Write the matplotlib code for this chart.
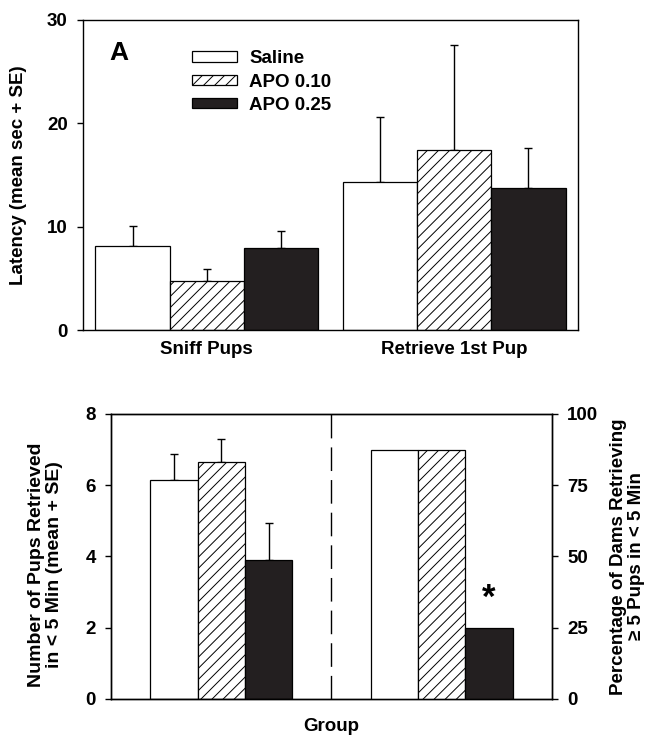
import matplotlib
matplotlib.use("Agg")
import matplotlib.pyplot as plt
import numpy as np

plt.rcParams['font.family'] = ['Liberation Sans', 'DejaVu Sans']
plt.rcParams['font.weight'] = 'bold'
plt.rcParams['hatch.linewidth'] = 0.7

FS = 13.5  # base font size

# ---- data ----
groups = ['Saline', 'APO 0.10', 'APO 0.25']
categories = ['Sniff Pups', 'Retrieve 1st Pup']
saline_mean = [8.1, 14.3]
saline_se = [2.0, 6.35]
apo010_mean = [4.7, 17.4]
apo010_se = [1.2, 10.2]
apo025_mean = [7.95, 13.75]
apo025_se = [1.6, 3.9]

pups_mean = [6.15, 6.65, 3.9]
pups_se = [0.72, 0.66, 1.04]
pct_retrieving = [87.5, 87.5, 25.0]
sig_marker = ['', '', '*']

colors = ['white', 'white', '#231f20']
hatches = ['', '///', '']

fig = plt.figure(figsize=(6.46, 7.37), dpi=100)

# ---- top panel ----
ax = fig.add_axes([0.1285, 0.5522, 0.7662, 0.4207])
means = [saline_mean, apo010_mean, apo025_mean]
ses = [saline_se, apo010_se, apo025_se]
x = np.arange(len(categories))
w = 0.3
for i, (m, s) in enumerate(zip(means, ses)):
    pos = x + (i - 1) * w
    ax.bar(pos, m, width=w, color=colors[i], edgecolor='black', linewidth=0.9,
           hatch=hatches[i], label=groups[i], zorder=2)
    ax.errorbar(pos, m, yerr=[np.zeros(len(m)), s], fmt='none', ecolor='black',
                elinewidth=1.0, capsize=3.2, capthick=1.0, zorder=1)
ax.set_xlim(-0.5, 1.5)
ax.set_ylim(0, 30)
ax.set_yticks([0, 10, 20, 30])
ax.set_xticks(x)
ax.set_xticklabels(categories, fontsize=FS, fontweight='bold')
ax.tick_params(axis='x', length=0, pad=8)
ax.tick_params(axis='y', direction='out', length=4, width=1, pad=7, labelsize=FS)
ax.set_ylabel('Latency (mean sec + SE)', fontsize=FS, fontweight='bold')
ax.yaxis.set_label_coords(-0.113, 0.5)
for sp in ax.spines.values():
    sp.set_linewidth(1.0)
ax.text(0.073, 0.892, 'A', transform=ax.transAxes, fontsize=19, fontweight='bold',
        ha='center', va='center')
leg = ax.legend(loc='upper left', bbox_to_anchor=(0.22, 0.902), frameon=False,
                fontsize=FS, handlelength=2.4, handleheight=0.5,
                handletextpad=0.65, labelspacing=0.33, borderpad=0, borderaxespad=0)

# ---- bottom panel ----
bx = fig.add_axes([0.1718, 0.0516, 0.6827, 0.3867])
bx2 = bx.twinx()
w2 = 0.215
for i in range(len(groups)):
    bx.bar(0 + (i - 1) * w2, pups_mean[i], width=w2, color=colors[i], edgecolor='black',
           linewidth=0.9, hatch=hatches[i], zorder=2)
    bx.errorbar(0 + (i - 1) * w2, pups_mean[i], yerr=[[0], [pups_se[i]]], fmt='none',
                ecolor='black', elinewidth=1.0, capsize=2.8, capthick=1.0, zorder=1)
    bx2.bar(1 + (i - 1) * w2, pct_retrieving[i], width=w2, color=colors[i],
            edgecolor='black', linewidth=0.9, hatch=hatches[i], zorder=2)
    if sig_marker[i]:
        bx2.text(1 + (i - 1) * w2, pct_retrieving[i] + 4.5, sig_marker[i], fontsize=25,
                 fontweight='bold', ha='center', va='bottom')
bx.axvline(0.5, color='black', linewidth=1.0, dashes=(17, 6.5))
bx.set_xlim(-0.5, 1.5)
bx.set_ylim(0, 8)
bx.set_yticks([0, 2, 4, 6, 8])
bx2.set_ylim(0, 100)
bx2.set_yticks([0, 25, 50, 75, 100])
bx.set_xticks([])
bx.tick_params(axis='y', direction='out', length=4, width=1, pad=7, labelsize=FS)
bx2.tick_params(axis='y', direction='out', length=4, width=1, pad=7, labelsize=FS)
bx.set_xlabel('Group', fontsize=FS, fontweight='bold', labelpad=14)
bx.set_ylabel('Number of Pups Retrieved\nin < 5 Min (mean + SE)', fontsize=14,
              fontweight='bold', linespacing=1.1)
bx.yaxis.set_label_coords(-0.109, 0.47)
bx2.set_ylabel('Percentage of Dams Retrieving\n\u2265 5 Pups in < 5 Min', fontsize=FS,
               fontweight='bold', linespacing=1.1)
bx2.yaxis.set_label_coords(1.1315, 0.5)
for a in (bx, bx2):
    for sp in a.spines.values():
        sp.set_linewidth(1.0)

fig.savefig('out.png', dpi=100)
